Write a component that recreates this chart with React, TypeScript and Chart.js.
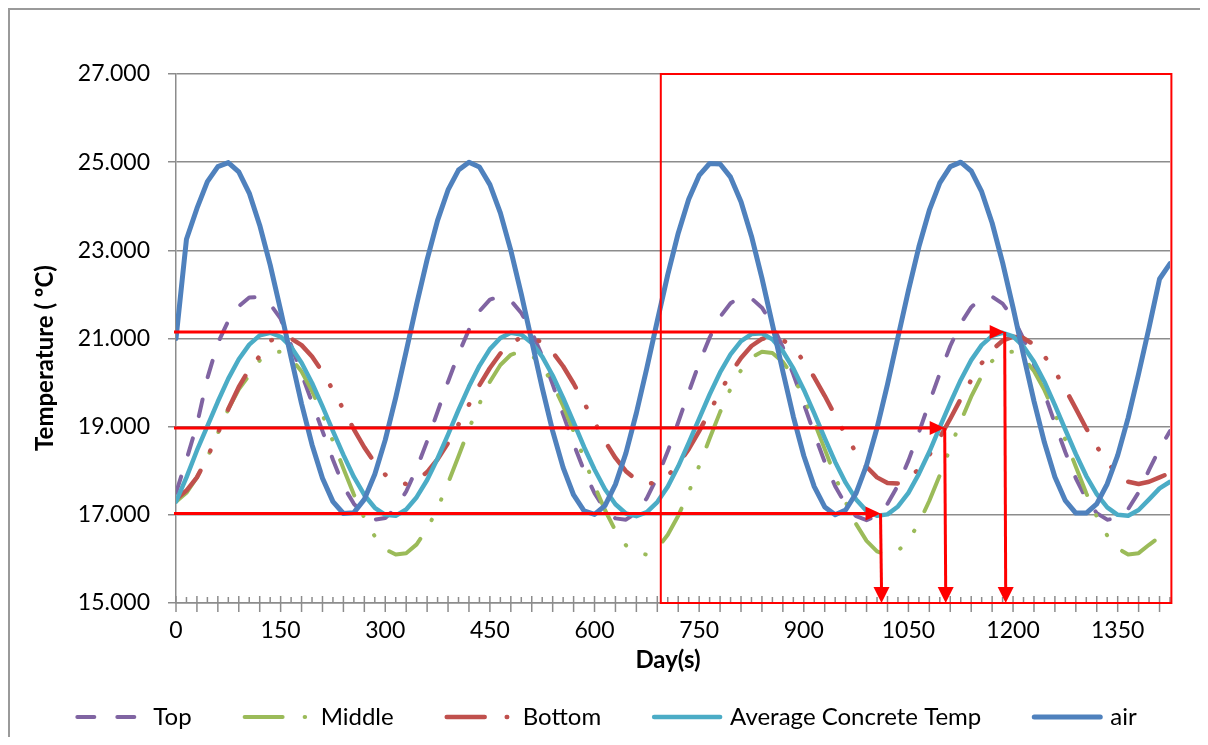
import React, { useEffect, useRef } from 'react';
import { Chart, registerables } from 'chart.js';

Chart.register(...registerables);

// ---------- data ----------
const days = [
  0, 15, 30, 45, 60, 75, 90, 105, 120, 135,
  150, 165, 180, 195, 210, 225, 240, 255, 270, 285,
  300, 315, 330, 345, 360, 375, 390, 405, 420, 435,
  450, 465, 480, 495, 510, 525, 540, 555, 570, 585,
  600, 615, 630, 645, 660, 675, 690, 705, 720, 735,
  750, 765, 780, 795, 810, 825, 840, 855, 870, 885,
  900, 915, 930, 945, 960, 975, 990, 1005, 1020, 1035,
  1050, 1065, 1080, 1095, 1110, 1125, 1140, 1155, 1170, 1185,
  1200, 1215, 1230, 1245, 1260, 1275, 1290, 1305, 1320, 1335,
  1350, 1365, 1380, 1395, 1410, 1425,
];

const topTemps = [
  17.5, 18.25, 19.05, 20.1, 20.9, 21.4, 21.73, 21.93, 21.94, 21.78,
  21.45, 20.85, 20.2, 19.55, 18.9, 18.25, 17.65, 17.25, 17.0, 16.89,
  16.93, 17.15, 17.53, 18.05, 18.67, 19.34, 20.02, 20.65, 21.2, 21.62,
  21.88, 21.96, 21.86, 21.58, 21.15, 20.6, 19.96, 19.28, 18.61, 18.0,
  17.49, 17.12, 16.92, 16.89, 17.05, 17.38, 17.86, 18.44, 19.1, 19.78,
  20.44, 21.02, 21.49, 21.8, 21.95, 21.91, 21.7, 21.32, 20.8, 20.19,
  19.52, 18.84, 18.2, 17.65, 17.23, 16.97, 16.88, 16.98, 17.25, 17.67,
  18.23, 18.87, 19.55, 20.21, 20.83, 21.34, 21.71, 21.92, 21.95, 21.79,
  21.47, 20.99, 20.41, 19.76, 19.07, 18.42, 17.83, 17.36, 17.04, 16.89,
  16.92, 17.13, 17.51, 18.02, 18.5, 18.9,
];

const middleTemps = [
  17.3, 17.5, 17.85, 18.3, 18.85, 19.4, 19.85, 20.17, 20.5, 20.68,
  20.7, 20.55, 20.25, 19.81, 19.27, 18.67, 18.05, 17.46, 16.93, 16.51,
  16.22, 16.1, 16.13, 16.33, 16.68, 17.15, 17.72, 18.33, 18.95, 19.52,
  20.02, 20.4, 20.63, 20.71, 20.62, 20.37, 19.98, 19.47, 18.89, 18.27,
  17.66, 17.11, 16.64, 16.31, 16.12, 16.1, 16.24, 16.55, 16.98, 17.51,
  18.11, 18.73, 19.33, 19.86, 20.28, 20.57, 20.7, 20.67, 20.47, 20.13,
  19.66, 19.1, 18.49, 17.87, 17.29, 16.79, 16.41, 16.17, 16.09, 16.18,
  16.42, 16.81, 17.32, 17.9, 18.52, 19.12, 19.68, 20.15, 20.49, 20.68,
  20.7, 20.56, 20.26, 19.83, 19.3, 18.7, 18.09, 17.49, 16.96, 16.53,
  16.24, 16.1, 16.13, 16.32, 16.5, 16.75,
];

const bottomTemps = [
  17.35, 17.55, 17.85, 18.3, 18.85, 19.4, 19.9, 20.3, 20.6, 20.95,
  21.04, 21.0, 20.85, 20.59, 20.24, 19.83, 19.39, 18.94, 18.53, 18.18,
  17.91, 17.75, 17.7, 17.78, 17.97, 18.26, 18.63, 19.05, 19.5, 19.94,
  20.33, 20.66, 20.9, 21.02, 21.03, 20.91, 20.69, 20.37, 19.98, 19.54,
  19.1, 18.67, 18.29, 17.99, 17.79, 17.7, 17.74, 17.89, 18.14, 18.49,
  18.9, 19.34, 19.79, 20.2, 20.56, 20.83, 20.99, 21.04, 20.97, 20.78,
  20.49, 20.12, 19.7, 19.25, 18.81, 18.41, 18.09, 17.85, 17.72, 17.71,
  17.82, 18.04, 18.36, 18.75, 19.18, 19.63, 20.06, 20.44, 20.74, 20.95,
  21.04, 21.01, 20.86, 20.6, 20.26, 19.85, 19.41, 18.96, 18.55, 18.19,
  17.92, 17.75, 17.7, 17.75, 17.85, 17.95,
];

const avgConcreteTemps = [
  17.3, 17.85, 18.46, 19.01, 19.57, 20.09, 20.53, 20.86, 21.07, 21.13,
  21.04, 20.81, 20.45, 19.99, 19.46, 18.9, 18.36, 17.86, 17.45, 17.16,
  17.0, 16.98, 17.12, 17.4, 17.79, 18.28, 18.82, 19.38, 19.91, 20.38,
  20.76, 21.01, 21.13, 21.09, 20.9, 20.59, 20.16, 19.65, 19.1, 18.54,
  18.03, 17.58, 17.24, 17.03, 16.97, 17.06, 17.29, 17.64, 18.1, 18.63,
  19.18, 19.73, 20.23, 20.64, 20.94, 21.1, 21.12, 20.98, 20.71, 20.32,
  19.84, 19.3, 18.74, 18.2, 17.73, 17.35, 17.09, 16.98, 17.01, 17.19,
  17.5, 17.93, 18.43, 18.99, 19.54, 20.06, 20.51, 20.85, 21.06, 21.13,
  21.05, 20.82, 20.47, 20.02, 19.49, 18.93, 18.38, 17.88, 17.47, 17.17,
  17.0, 16.98, 17.11, 17.35, 17.6, 17.75,
];

const airTemps = [
  21.0, 23.25, 23.95, 24.56, 24.9, 24.99, 24.78, 24.3, 23.57, 22.67,
  21.64, 20.57, 19.52, 18.59, 17.83, 17.3, 17.03, 17.05, 17.35, 17.92,
  18.7, 19.66, 20.71, 21.78, 22.79, 23.68, 24.37, 24.82, 25.0, 24.89,
  24.49, 23.85, 23.0, 22.01, 20.94, 19.88, 18.9, 18.07, 17.45, 17.09,
  17.01, 17.21, 17.69, 18.4, 19.31, 20.33, 21.4, 22.45, 23.39, 24.16,
  24.7, 24.97, 24.96, 24.66, 24.1, 23.32, 22.37, 21.32, 20.25, 19.23,
  18.34, 17.64, 17.18, 17.0, 17.11, 17.49, 18.13, 18.97, 19.96, 21.03,
  22.09, 23.08, 23.91, 24.53, 24.9, 25.0, 24.8, 24.33, 23.62, 22.72,
  21.7, 20.62, 19.58, 18.64, 17.86, 17.32, 17.04, 17.04, 17.25, 17.7,
  18.35, 19.2, 20.2, 21.25, 22.35, 22.7,
];

const seriesNames = ['Top', 'Middle', 'Bottom', 'Average Concrete Temp', 'air'];
const seriesValues = [topTemps, middleTemps, bottomTemps, avgConcreteTemps, airTemps];

// annotation values (data coordinates)
const arrowLevels = [21.15, 18.97, 17.03];
const arrowDays = [1188, 1102, 1010];
const boxDays = [695, 1427];
const boxTemps = [15, 27];

const xTitle = 'Day(s)';
const yTitle = 'Temperature ( \u00baC)';

// ---------- styles ----------
const FONT = 'Lato, "DejaVu Sans", sans-serif';
const GRID = '#8c8c8c';
const FRAME = '#9a9a9a';
const RED = '#ff0000';
const styles = [
  { color: '#8064A2', width: 4, dash: [17, 23] },
  { color: '#9BBB59', width: 4, dash: [38, 22, 0.5, 22, 0.5, 22] },
  { color: '#C0504D', width: 4.5, dash: [38, 22, 0.5, 22, 0.5, 22] },
  { color: '#4BACC6', width: 4.5, dash: [] as number[] },
  { color: '#4F81BD', width: 5, dash: [] as number[] },
];

const decor = {
  id: 'decor',
  beforeDraw(chart: any) {
    const { ctx, width, height } = chart;
    ctx.save();
    ctx.fillStyle = '#fff';
    ctx.fillRect(0, 0, width, height);
    ctx.fillStyle = FRAME;
    ctx.fillRect(0, 0, width, 2);
    ctx.fillRect(0, 0, 2, height);
    ctx.restore();
  },
  beforeDatasetsDraw(chart: any) {
    const { ctx } = chart;
    const xs = chart.scales.x;
    const ys = chart.scales.y;
    const base = ys.getPixelForValue(15);
    ctx.save();
    ctx.strokeStyle = GRID;
    ctx.lineWidth = 1.5;
    days.forEach((d, i) => {
      const px = xs.getPixelForValue(d);
      ctx.beginPath();
      if (i % 2 === 0) {
        ctx.moveTo(px, base - 7);
        ctx.lineTo(px, base + 9);
      } else {
        ctx.moveTo(px, base - 6);
        ctx.lineTo(px, base);
      }
      ctx.stroke();
    });
    ctx.restore();
  },
  afterDatasetsDraw(chart: any) {
    const { ctx } = chart;
    const xs = chart.scales.x;
    const ys = chart.scales.y;
    ctx.save();
    ctx.strokeStyle = RED;
    ctx.fillStyle = RED;
    ctx.lineWidth = 2;
    const bx0 = xs.getPixelForValue(boxDays[0]);
    const bx1 = xs.getPixelForValue(boxDays[1]);
    const by0 = ys.getPixelForValue(boxTemps[1]);
    const by1 = ys.getPixelForValue(boxTemps[0]);
    ctx.strokeRect(bx0, by0, bx1 - bx0, by1 - by0);
    ctx.lineWidth = 3;
    const x0 = xs.getPixelForValue(0);
    const base = ys.getPixelForValue(15);
    arrowLevels.forEach((lv, k) => {
      const py = ys.getPixelForValue(lv);
      const px = xs.getPixelForValue(arrowDays[k]);
      ctx.beginPath();
      ctx.moveTo(x0 - 2, py);
      ctx.lineTo(px - 12, py);
      ctx.stroke();
      ctx.beginPath();
      ctx.moveTo(px, py);
      ctx.lineTo(px - 15, py - 7);
      ctx.lineTo(px - 15, py + 7);
      ctx.closePath();
      ctx.fill();
      ctx.beginPath();
      ctx.moveTo(px, py);
      ctx.lineTo(px + 1, base - 12);
      ctx.stroke();
      ctx.beginPath();
      ctx.moveTo(px + 1, base);
      ctx.lineTo(px + 1 - 8, base - 16);
      ctx.lineTo(px + 1 + 8, base - 16);
      ctx.closePath();
      ctx.fill();
    });
    ctx.restore();
  },
  afterDraw(chart: any) {
    const { ctx } = chart;
    const area = chart.chartArea;
    ctx.save();
    // axis titles
    ctx.fillStyle = '#000';
    ctx.font = `bold 24px ${FONT}`;
    ctx.textAlign = 'center';
    ctx.textBaseline = 'middle';
    ctx.fillText(xTitle, (area.left + area.right) / 2 - 5, 652);
    ctx.save();
    ctx.translate(37, 350);
    ctx.rotate(-Math.PI / 2);
    ctx.fillText(yTitle, 0, 0);
    ctx.restore();

    // legend
    ctx.font = `24px ${FONT}`;
    const widths = seriesNames.map((n) => ctx.measureText(n).width);
    const symLen = 70;
    const textGap = 8;
    const itemGap = 51;
    const total =
      widths.reduce((a, w) => a + symLen + textGap + w, 0) + itemGap * (seriesNames.length - 1);
    let cx = 598 - total / 2;
    const ly = 709;
    seriesNames.forEach((name, k) => {
      const st = styles[k];
      ctx.save();
      ctx.strokeStyle = st.color;
      ctx.lineWidth = st.width;
      ctx.lineCap = 'round';
      ctx.setLineDash(st.dash);
      ctx.beginPath();
      ctx.moveTo(cx + 2, ly);
      ctx.lineTo(cx + symLen - 2, ly);
      ctx.stroke();
      ctx.restore();
      ctx.fillStyle = '#000';
      ctx.textAlign = 'left';
      ctx.textBaseline = 'middle';
      ctx.fillText(name, cx + symLen + textGap, ly);
      cx += symLen + textGap + widths[k] + itemGap;
    });
    ctx.restore();
  },
};

export default function App() {
  const ref = useRef<HTMLCanvasElement | null>(null);

  useEffect(() => {
    document.documentElement.style.overflow = 'hidden';
    document.body.style.overflow = 'hidden';
    if (!ref.current) return;
    const chart = new Chart(ref.current, {
      type: 'line',
      data: {
        datasets: seriesNames.map((name, k) => ({
          label: name,
          data: days.map((d, i) => ({ x: d, y: seriesValues[k][i] })),
          borderColor: styles[k].color,
          backgroundColor: styles[k].color,
          borderWidth: styles[k].width,
          borderDash: styles[k].dash,
          borderCapStyle: 'round',
          borderJoinStyle: 'round',
          pointRadius: 0,
          pointHoverRadius: 0,
          tension: 0,
          fill: false,
          order: 5 - k,
        })),
      },
      options: {
        animation: false,
        responsive: false,
        maintainAspectRatio: false,
        events: [],
        layout: { padding: { left: 2, top: 66, right: 80, bottom: 74 } },
        plugins: {
          legend: { display: false },
          tooltip: { enabled: false },
          title: { display: false },
        },
        scales: {
          x: {
            type: 'linear',
            min: 0,
            max: 1425,
            afterFit: (s: any) => {
              s.height = 60;
            },
            ticks: {
              stepSize: 150,
              includeBounds: false,
              autoSkip: false,
              maxRotation: 0,
              color: '#000',
              font: { family: FONT, size: 23 },
              padding: 14,
              callback: (v: any) => String(v),
            },
            grid: { display: true, drawOnChartArea: false, drawTicks: false },
            border: { display: true, color: GRID, width: 1.5 },
          },
          y: {
            type: 'linear',
            min: 15,
            max: 27,
            afterFit: (s: any) => {
              s.width = 166;
            },
            ticks: {
              stepSize: 2,
              callback: (v: any) => Number(v).toFixed(3),
              color: '#000',
              font: { family: FONT, size: 23 },
              padding: 18,
            },
            grid: { color: GRID, lineWidth: 1.5, drawTicks: true, tickLength: 8, tickColor: GRID },
            border: { display: true, color: GRID, width: 1.5 },
          },
        },
      },
      plugins: [decor],
    } as any);
    return () => chart.destroy();
  }, []);

  return (
    <div style={{ width: 1242, height: 729, overflow: 'hidden' }}>
      <canvas ref={ref} width={1242} height={729} style={{ display: 'block' }} />
    </div>
  );
}
